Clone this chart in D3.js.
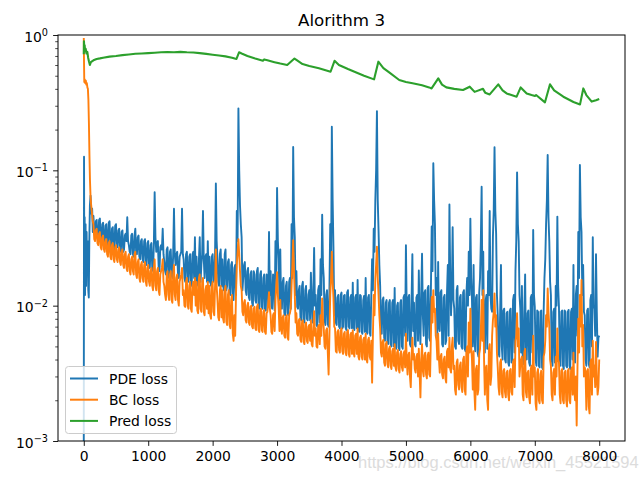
<!DOCTYPE html>
<html><head><meta charset="utf-8">
<script src="https://cdn.jsdelivr.net/npm/d3@7"></script>
<style>
body{margin:0;background:#fff}
svg{display:block}
text{font-family:"DejaVu Sans",sans-serif;fill:#000}
</style>
</head><body>
<svg id="chart" width="640" height="480"></svg>
<script>
// ---------- data ----------
const chartTitle = "Alorithm 3";
const seriesNames = ["PDE loss", "BC loss", "Pred loss"];
const seriesColors = ["#1f77b4", "#ff7f0e", "#2ca02c"];
const xTickValues = [0, 1000, 2000, 3000, 4000, 5000, 6000, 7000, 8000];
const yTickValues = [1e-3, 1e-2, 1e-1, 1];
const yTickExponents = ["\u22123", "\u22122", "\u22121", "0"];
const watermark = "https://blog.csdn.net/weixin_45521594";

// first iterations (sampled densely)
const pdeEarlyIter = [0, 4, 8, 14, 20, 28, 36, 44, 52, 60, 70, 78, 86, 95, 105, 118, 130, 140];
const pdeEarly = [0.0008, 0.126, 0.02, 0.045, 0.012, 0.04, 0.014, 0.035, 0.018, 0.03, 0.013, 0.0115, 0.03, 0.055, 0.065, 0.048, 0.052, 0.035];
const bcEarlyIter = [0, 4, 8, 16, 24, 32, 40, 48, 56, 64, 72, 80, 88, 96, 104, 115, 128, 140];
const bcEarly = [0.95, 0.62, 0.45, 0.47, 0.44, 0.46, 0.43, 0.44, 0.41, 0.40, 0.33, 0.22, 0.13, 0.085, 0.066, 0.055, 0.048, 0.042];

// from iteration 150, every 25 iterations
const sampleStart = 150, sampleStep = 25;
const pdeLoss = [
 0.046,0.033,0.043,0.031,0.044,0.030,0.041,0.029,
 0.040,0.028,0.042,0.027,0.038,0.026,0.040,0.027,
 0.037,0.025,0.036,0.026,0.034,0.045,0.028,0.024,
 0.034,0.023,0.037,0.024,0.033,0.022,0.031,0.021,
 0.031,0.020,0.030,0.019,0.029,0.018,0.069,0.025,
 0.030,0.018,0.028,0.037,0.021,0.017,0.027,0.016,
 0.026,0.016,0.052,0.020,0.025,0.016,0.024,0.052,
 0.022,0.015,0.025,0.015,0.024,0.014,0.025,0.032,
 0.023,0.014,0.032,0.020,0.050,0.016,0.024,0.030,
 0.023,0.014,0.024,0.016,0.080,0.022,0.014,0.026,
 0.022,0.013,0.026,0.014,0.022,0.012,0.021,0.011,
 0.020,0.050,0.287,0.055,0.032,0.016,0.021,0.012,
 0.019,0.011,0.018,0.010,0.017,0.0105,0.019,0.0095,
 0.018,0.0095,0.017,0.0092,0.016,0.035,0.018,0.0095,
 0.016,0.030,0.074,0.022,0.026,0.0095,0.016,0.0085,
 0.015,0.0085,0.016,0.040,0.149,0.032,0.018,0.0095,
 0.014,0.0078,0.015,0.0075,0.014,0.0078,0.013,0.0175,
 0.0075,0.0267,0.012,0.007,0.014,0.022,0.047,0.016,
 0.0072,0.013,0.007,0.040,0.21,0.027,0.013,0.0072,
 0.012,0.0068,0.0125,0.0070,0.012,0.0066,0.013,0.0068,
 0.012,0.0148,0.0066,0.012,0.0155,0.0064,0.0118,0.0062,
 0.0118,0.016,0.0062,0.012,0.0060,0.022,0.037,0.060,
 0.274,0.036,0.014,0.0062,0.0115,0.0055,0.011,0.0052,
 0.011,0.0050,0.0110,0.0135,0.0048,0.0105,0.0047,0.011,
 0.0048,0.012,0.028,0.0055,0.012,0.0050,0.024,0.0105,
 0.0050,0.012,0.0182,0.0052,0.0242,0.0060,0.013,0.0050,
 0.014,0.0055,0.0385,0.113,0.040,0.016,0.021,0.0065,
 0.013,0.0050,0.012,0.0055,0.020,0.056,0.0085,0.038,
 0.0095,0.0048,0.014,0.0052,0.012,0.0048,0.013,0.0046,
 0.016,0.025,0.044,0.011,0.020,0.0046,0.012,0.0042,
 0.016,0.0757,0.025,0.0045,0.012,0.018,0.050,0.0095,
 0.032,0.148,0.034,0.0085,0.0042,0.020,0.0040,0.0095,
 0.0038,0.0090,0.0036,0.0095,0.0040,0.012,0.018,0.0966,
 0.030,0.0095,0.014,0.0037,0.017,0.0040,0.0092,0.0036,
 0.012,0.0363,0.0098,0.0036,0.0090,0.0035,0.0092,0.0034,
 0.016,0.040,0.130,0.030,0.012,0.0036,0.0095,0.014,
 0.0455,0.0098,0.0036,0.0092,0.0034,0.0090,0.0035,0.0093,
 0.0034,0.0095,0.020,0.0038,0.014,0.035,0.1095,0.035,
 0.020,0.0085,0.0036,0.0095,0.0035,0.012,0.032,0.0095,
 0.024,0.0042,0.0060
];
// values half-way between the samples above (iteration 162.5, 187.5, ...)
const pdeLossMid = [
 0.034,0.042,0.032,0.043,0.031,0.040,0.030,0.039,
 0.029,0.041,0.028,0.037,0.027,0.039,0.028,0.036,
 0.026,0.035,0.025,0.033,0.030,0.030,0.025,0.033,
 0.024,0.033,0.025,0.032,0.023,0.030,0.022,0.030,
 0.021,0.029,0.020,0.028,0.019,0.028,0.032,0.029,
 0.019,0.027,0.026,0.024,0.018,0.026,0.017,0.025,
 0.017,0.024,0.024,0.024,0.017,0.023,0.025,0.024,
 0.016,0.024,0.016,0.023,0.015,0.024,0.016,0.015,
 0.015,0.022,0.015,0.024,0.022,0.023,0.015,0.015,
 0.015,0.023,0.015,0.024,0.030,0.015,0.024,0.014,
 0.014,0.024,0.013,0.021,0.013,0.020,0.012,0.019,
 0.012,0.030,0.10,0.040,0.013,0.020,0.013,0.018,
 0.0115,0.017,0.0105,0.018,0.011,0.018,0.0098,0.017,
 0.0098,0.016,0.0095,0.017,0.0098,0.012,0.0098,0.017,
 0.0092,0.016,0.030,0.011,0.0098,0.015,0.0088,0.014,
 0.0088,0.015,0.0095,0.016,0.045,0.012,0.0098,0.013,
 0.0082,0.014,0.0078,0.013,0.0080,0.012,0.0078,0.011,
 0.012,0.010,0.0072,0.013,0.0075,0.012,0.020,0.0078,
 0.012,0.0073,0.013,0.015,0.060,0.0085,0.0075,0.0115,
 0.0070,0.012,0.0068,0.0118,0.0069,0.0125,0.0070,0.0115,
 0.0068,0.0070,0.0115,0.0068,0.0068,0.012,0.0064,0.011,
 0.0064,0.0066,0.0115,0.0063,0.012,0.013,0.025,0.10,
 0.060,0.020,0.0065,0.011,0.0058,0.0105,0.0055,0.0105,
 0.0052,0.0105,0.0050,0.0050,0.0100,0.0049,0.0105,0.0050,
 0.0115,0.0060,0.0090,0.0115,0.0052,0.0110,0.0065,0.0052,
 0.0115,0.0055,0.0075,0.0120,0.0085,0.0125,0.0052,0.0135,
 0.0058,0.013,0.018,0.060,0.012,0.0058,0.0070,0.0125,
 0.0052,0.0115,0.0052,0.0125,0.0060,0.016,0.0130,0.0110,
 0.0050,0.0130,0.0055,0.0115,0.0050,0.0125,0.0048,0.0120,
 0.0100,0.012,0.0160,0.0050,0.0060,0.0115,0.0045,0.0125,
 0.030,0.012,0.0050,0.0110,0.0048,0.012,0.012,0.0090,
 0.050,0.050,0.012,0.0045,0.0090,0.0050,0.0092,0.0040,
 0.0088,0.0038,0.0092,0.0038,0.0110,0.0045,0.030,0.040,
 0.012,0.0045,0.0040,0.0090,0.0042,0.0088,0.0038,0.0115,
 0.0045,0.012,0.0040,0.0092,0.0036,0.0090,0.0035,0.0090,
 0.022,0.060,0.045,0.015,0.0040,0.0090,0.0038,0.0100,
 0.014,0.0040,0.0090,0.0036,0.0092,0.0036,0.0090,0.0036,
 0.0090,0.0040,0.0042,0.0120,0.0060,0.016,0.045,0.012,
 0.0090,0.0040,0.0092,0.0037,0.0110,0.0050,0.0100,0.0060,
 0.0090,0.0058
];
const bcLoss = [
 0.040,0.030,0.037,0.028,0.035,0.026,0.033,0.025,
 0.031,0.023,0.030,0.022,0.029,0.021,0.028,0.021,
 0.027,0.020,0.026,0.019,0.025,0.018,0.024,0.017,
 0.023,0.017,0.025,0.016,0.022,0.015,0.021,0.015,
 0.021,0.014,0.020,0.014,0.019,0.013,0.022,0.013,
 0.019,0.012,0.018,0.022,0.014,0.011,0.018,0.011,
 0.018,0.0105,0.020,0.011,0.017,0.010,0.016,0.019,
 0.013,0.0098,0.016,0.0095,0.015,0.009,0.015,0.016,
 0.015,0.0088,0.017,0.009,0.016,0.0085,0.014,0.015,
 0.014,0.008,0.015,0.0085,0.026,0.011,0.0078,0.014,
 0.013,0.0075,0.014,0.0072,0.013,0.0068,0.012,0.0055,
 0.0060,0.020,0.031,0.018,0.013,0.0085,0.011,0.0075,
 0.0105,0.0072,0.010,0.0068,0.0098,0.0066,0.0102,0.0064,
 0.0095,0.0064,0.0093,0.0062,0.009,0.0126,0.0085,0.0062,
 0.0088,0.011,0.0177,0.0095,0.011,0.0062,0.0085,0.0058,
 0.0085,0.0056,0.0088,0.014,0.0305,0.012,0.0088,0.006,
 0.0080,0.0054,0.0078,0.0052,0.0075,0.0053,0.0072,0.0078,
 0.005,0.0091,0.0068,0.0049,0.0072,0.0085,0.0113,0.0068,
 0.0048,0.0068,0.0031,0.012,0.025,0.0115,0.0068,0.0045,
 0.0066,0.0045,0.0068,0.0044,0.0064,0.0043,0.0066,0.0042,
 0.0063,0.0066,0.0042,0.0062,0.0068,0.0040,0.006,0.0040,
 0.0058,0.0062,0.0038,0.0058,0.0040,0.0027,0.012,0.016,
 0.0273,0.012,0.0068,0.0042,0.0056,0.0036,0.0054,0.0035,
 0.0050,0.0034,0.0048,0.0052,0.0033,0.0047,0.0032,0.0046,
 0.0033,0.0046,0.0062,0.0031,0.0045,0.0025,0.0058,0.0044,
 0.0032,0.0044,0.0048,0.0021,0.0052,0.0030,0.0045,0.0029,
 0.0045,0.0030,0.0116,0.013,0.0095,0.0055,0.0062,0.0032,
 0.0044,0.0029,0.0042,0.0027,0.0048,0.0058,0.0032,0.0058,
 0.0036,0.0022,0.0040,0.0024,0.0038,0.0023,0.0042,0.0022,
 0.0050,0.0075,0.0095,0.0040,0.0046,0.0017,0.0036,0.0024,
 0.0048,0.011,0.013,0.0022,0.0036,0.0017,0.0052,0.0030,
 0.0078,0.0123,0.0085,0.0035,0.0022,0.0040,0.0021,0.0034,
 0.0021,0.0033,0.0020,0.0034,0.0022,0.0040,0.0055,0.0088,
 0.0068,0.0036,0.0042,0.0020,0.0048,0.0021,0.0033,0.0019,
 0.0036,0.0060,0.0035,0.0017,0.0034,0.0019,0.0033,0.0019,
 0.0045,0.0085,0.0134,0.0070,0.0036,0.0020,0.0034,0.0042,
 0.0068,0.0038,0.0019,0.0034,0.0019,0.0033,0.0018,0.0034,
 0.0019,0.0035,0.0045,0.0020,0.0013,0.0080,0.0120,0.0155,
 0.0072,0.0035,0.0017,0.0034,0.0016,0.0040,0.0055,0.0036,
 0.0054,0.0022,0.0040
];
const bcLossMid = [
 0.031,0.036,0.029,0.034,0.027,0.032,0.026,0.030,
 0.024,0.029,0.023,0.028,0.022,0.027,0.022,0.026,
 0.021,0.025,0.020,0.024,0.019,0.023,0.018,0.022,
 0.018,0.024,0.017,0.021,0.016,0.020,0.016,0.020,
 0.015,0.019,0.015,0.018,0.014,0.019,0.014,0.018,
 0.013,0.017,0.019,0.015,0.012,0.017,0.012,0.017,
 0.011,0.017,0.012,0.016,0.011,0.015,0.017,0.012,
 0.010,0.015,0.010,0.014,0.0095,0.014,0.012,0.010,
 0.0092,0.016,0.0095,0.015,0.009,0.013,0.0095,0.0088,
 0.0085,0.014,0.009,0.014,0.014,0.0082,0.013,0.0082,
 0.008,0.013,0.0076,0.012,0.0072,0.011,0.0062,0.0085,
 0.012,0.025,0.024,0.014,0.009,0.0105,0.0078,0.0100,
 0.0075,0.0098,0.0070,0.0095,0.0068,0.0098,0.0066,0.0092,
 0.0066,0.0090,0.0064,0.0088,0.0105,0.0095,0.0064,0.0085,
 0.0065,0.014,0.012,0.0065,0.0070,0.0082,0.0060,0.0082,
 0.0058,0.0085,0.0095,0.020,0.018,0.0075,0.0062,0.0078,
 0.0056,0.0076,0.0054,0.0073,0.0055,0.0070,0.0055,0.0052,
 0.0068,0.0060,0.0050,0.0070,0.0052,0.0060,0.0080,0.0050,
 0.0066,0.0045,0.0060,0.016,0.015,0.0070,0.0046,0.0064,
 0.0047,0.0065,0.0046,0.0062,0.0045,0.0064,0.0044,0.0061,
 0.0044,0.0045,0.0060,0.0044,0.0042,0.0058,0.0042,0.0056,
 0.0040,0.0040,0.0056,0.0042,0.0055,0.0060,0.0085,0.020,
 0.016,0.0085,0.0045,0.0054,0.0038,0.0052,0.0037,0.0048,
 0.0036,0.0046,0.0036,0.0035,0.0045,0.0034,0.0044,0.0035,
 0.0044,0.0035,0.0040,0.0043,0.0030,0.0042,0.0040,0.0034,
 0.0042,0.0030,0.0032,0.0040,0.0033,0.0043,0.0031,0.0043,
 0.0031,0.0060,0.0075,0.0090,0.0060,0.0040,0.0040,0.0042,
 0.0031,0.0040,0.0029,0.0046,0.0035,0.0034,0.0050,0.0034,
 0.0024,0.0038,0.0026,0.0036,0.0025,0.0040,0.0024,0.0046,
 0.0030,0.0045,0.0050,0.0024,0.0023,0.0034,0.0022,0.0044,
 0.0065,0.0055,0.0040,0.0034,0.0020,0.0048,0.0026,0.0060,
 0.0090,0.0070,0.0045,0.0025,0.0038,0.0023,0.0033,0.0023,
 0.0032,0.0022,0.0033,0.0023,0.0038,0.0025,0.0060,0.0050,
 0.0030,0.0040,0.0022,0.0045,0.0023,0.0032,0.0021,0.0034,
 0.0022,0.0030,0.0019,0.0032,0.0020,0.0031,0.0020,0.0042,
 0.0055,0.0070,0.0090,0.0040,0.0022,0.0032,0.0022,0.0030,
 0.0040,0.0022,0.0033,0.0020,0.0032,0.0020,0.0033,0.0020,
 0.0033,0.0022,0.0024,0.0030,0.0035,0.0045,0.0070,0.0050,
 0.0030,0.0033,0.0032,0.0018,0.0038,0.0022,0.0030,0.0025,
 0.0030,0.0025
];

const predIter = [0,3,8,14,20,30,42,55,68,80,95,110,150,200,250,300,400,500,600,700,800,900,1000,1100,1200,1300,1400,1500,1600,1700,1800,1900,2000,2100,2200,2300,2370,2410,2450,2540,2660,2780,2800,2850,2960,3050,3157,3270,3300,3395,3500,3650,3830,3892,3960,4100,4220,4350,4505,4572,4650,4740,4896,5000,5103,5250,5360,5398,5502,5560,5627,5750,5886,5990,6066,6196,6230,6300,6433,6500,6563,6718,6781,6874,6950,7003,7020,7158,7236,7300,7443,7600,7702,7753,7800,7883,7950,8000];
const predLoss = [0.72,0.9,0.80,0.84,0.76,0.79,0.73,0.75,0.68,0.64,0.60,0.63,0.65,0.665,0.672,0.68,0.692,0.70,0.71,0.718,0.726,0.73,0.735,0.74,0.745,0.748,0.745,0.75,0.745,0.742,0.735,0.725,0.715,0.705,0.695,0.68,0.665,0.745,0.73,0.70,0.67,0.645,0.66,0.65,0.63,0.615,0.60,0.67,0.655,0.61,0.59,0.567,0.535,0.645,0.60,0.56,0.53,0.50,0.47,0.635,0.57,0.53,0.465,0.45,0.44,0.425,0.41,0.403,0.478,0.43,0.41,0.40,0.392,0.415,0.38,0.40,0.375,0.364,0.432,0.39,0.37,0.35,0.41,0.37,0.36,0.354,0.36,0.318,0.432,0.39,0.35,0.32,0.307,0.403,0.36,0.322,0.33,0.337];

// ---------- build point lists ----------
function sampled(vals, mids) {
  const pts = [];
  vals.forEach((v, i) => {
    const it = sampleStart + i * sampleStep;
    pts.push([it, v]);
    if (i < mids.length) pts.push([it + sampleStep / 2, mids[i]]);
  });
  return pts;
}
const pdePts = pdeEarlyIter.map((it, i) => [it, pdeEarly[i]]).concat(sampled(pdeLoss, pdeLossMid));
const bcPts = bcEarlyIter.map((it, i) => [it, bcEarly[i]]).concat(sampled(bcLoss, bcLossMid));
const predPts = predIter.map((it, i) => [it, predLoss[i]]);
const allSeries = [pdePts, bcPts, predPts];
const strokeW = [1.9, 1.9, 2.1];

// ---------- layout ----------
const L = 58, R = 625, T = 35, B = 441;
const svg = d3.select("#chart");
const x = d3.scaleLinear().domain([-400, 8400]).range([L, R]);
const y = d3.scaleLog().domain([1e-3, 1]).range([B, T]);

// watermark (behind)
svg.append("text").attr("x", 358).attr("y", 468)
  .style("font-family", "'Liberation Sans', Arial, sans-serif")
  .style("font-size", "16.5px").style("fill", "#dcdcdc")
  .text(watermark);

svg.append("clipPath").attr("id", "clip").append("rect")
  .attr("x", L).attr("y", T).attr("width", R - L).attr("height", B - T);

const line = d3.line().x(d => x(d[0])).y(d => y(d[1]));
const plot = svg.append("g").attr("clip-path", "url(#clip)");
allSeries.forEach((pts, i) => {
  plot.append("path").datum(pts).attr("d", line)
    .attr("fill", "none").attr("stroke", seriesColors[i])
    .attr("stroke-width", strokeW[i]).attr("stroke-linejoin", "round");
});

// axes
const fs = 13.9;
const xAxis = svg.append("g").attr("transform", `translate(0,${B})`)
  .call(d3.axisBottom(x).tickValues(xTickValues).tickSize(4.9).tickPadding(3.5).tickFormat(d3.format("d")));
xAxis.select(".domain").remove();
xAxis.selectAll("text").style("font-size", fs + "px").style("font-family", "'DejaVu Sans'").attr("dy", "0.85em");
xAxis.selectAll("line").attr("stroke", "#000").attr("stroke-width", 0.9);

const minorVals = [];
[-3, -2, -1].forEach(e => { for (let m = 2; m <= 9; m++) minorVals.push(m * Math.pow(10, e)); });
const yMinor = svg.append("g").attr("transform", `translate(${L},0)`)
  .call(d3.axisLeft(y).tickValues(minorVals).tickSize(2.8).tickFormat(() => ""));
yMinor.select(".domain").remove();
yMinor.selectAll("line").attr("stroke", "#000").attr("stroke-width", 0.7);

const yAxis = svg.append("g").attr("transform", `translate(${L},0)`)
  .call(d3.axisLeft(y).tickValues(yTickValues).tickSize(4.9).tickFormat(() => ""));
yAxis.select(".domain").remove();
yAxis.selectAll("line").attr("stroke", "#000").attr("stroke-width", 0.9);

yTickValues.forEach((v, i) => {
  const t = svg.append("text").attr("x", 48).attr("y", y(v) + 6.5)
    .attr("text-anchor", "end").style("font-size", fs + "px");
  t.append("tspan").text("10");
  t.append("tspan").attr("dy", -5.5).style("font-size", "9.7px").text(yTickExponents[i]);
});

// frame
svg.append("rect").attr("x", L).attr("y", T).attr("width", R - L).attr("height", B - T)
  .attr("fill", "none").attr("stroke", "#000").attr("stroke-width", 1);

// title
svg.append("text").attr("x", (L + R) / 2).attr("y", 26).attr("text-anchor", "middle")
  .style("font-size", "16.7px").text(chartTitle);

// legend
const lg = svg.append("g");
lg.append("rect").attr("x", 65.5).attr("y", 366.5).attr("width", 111).attr("height", 67)
  .attr("rx", 3).attr("fill", "#fff").attr("fill-opacity", 0.8)
  .attr("stroke", "#cccccc").attr("stroke-width", 1);
seriesNames.forEach((n, i) => {
  const yy = 378.5 + i * 21.2;
  lg.append("line").attr("x1", 70).attr("x2", 98).attr("y1", yy).attr("y2", yy)
    .attr("stroke", seriesColors[i]).attr("stroke-width", 2);
  lg.append("text").attr("x", 109).attr("y", yy + 5).style("font-size", fs + "px").text(n);
});
</script>
</body></html>
